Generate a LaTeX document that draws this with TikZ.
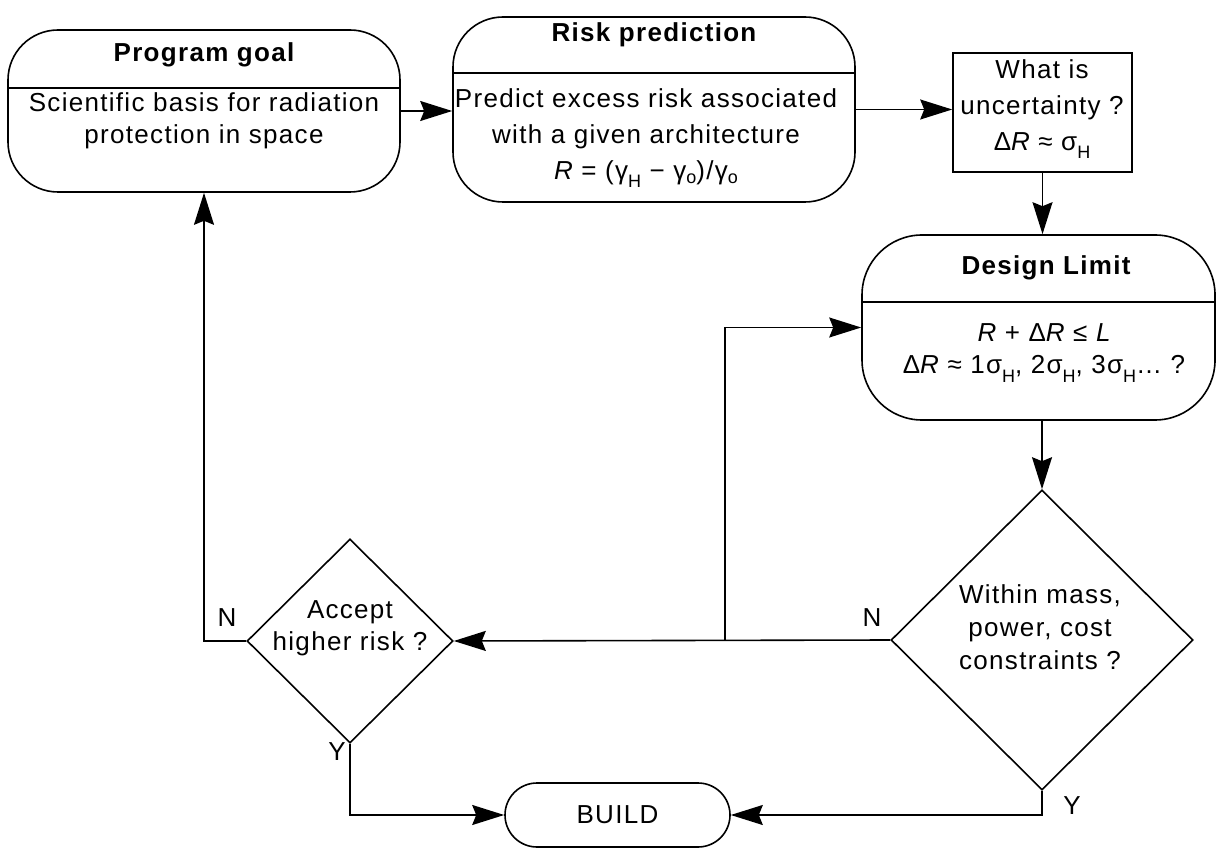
\documentclass[tikz,border=0pt]{standalone}
\usepackage{fontspec}
\setmainfont[LetterSpace=5]{Liberation Sans}
\usetikzlibrary{shapes.geometric,arrows.meta}
\newcommand{\subH}{\raisebox{-0.6ex}{\small H}}
\newcommand{\subo}{\raisebox{-0.3ex}{\small o}}
\begin{document}
\begin{tikzpicture}[x=0.5pt,y=-0.5pt,
  font=\fontsize{13}{16}\selectfont,
  line width=0.8pt,
  rbox/.style={draw, rectangle, rounded corners=#1, inner sep=0pt},
  sbox/.style={draw, rectangle, inner sep=0pt},
  dmd/.style={draw, diamond, inner sep=0pt},
  txt/.style={align=center, inner sep=0pt},
  lbl/.style={inner sep=0pt},
  arr/.style={-{Stealth[length=16pt,width=10pt,inset=2pt]}}]
\useasboundingbox (0,0) rectangle (1219,849);

% boxes
\node[rbox=25pt, minimum width=196pt, minimum height=81pt] (pg) at (204,111) {};
\node[rbox=25pt, minimum width=201pt, minimum height=92.5pt] (rp) at (654,109.5) {};
\node[sbox, minimum width=89.5pt, minimum height=59.5pt] (wu) at (1042.5,112.5) {};
\node[rbox=30pt, minimum width=176.5pt, minimum height=92.5pt] (dl) at (1038.5,327.5) {};
\node[dmd, minimum width=151pt, minimum height=150pt] (rd) at (1042,640) {};
\node[dmd, minimum width=103pt, minimum height=102pt] (ld) at (350,641) {};
\node[rbox=16pt, minimum width=112.5pt, minimum height=32pt] (bd) at (617.5,815) {};

% dividers
\coordinate (pgd) at (0,88);
\coordinate (rpd) at (0,73);
\coordinate (dld) at (0,302);
\draw (pg.west |- pgd) -- (pg.east |- pgd);
\draw (rp.west |- rpd) -- (rp.east |- rpd);
\draw (dl.west |- dld) -- (dl.east |- dld);

% texts
\node[txt] (pgt) at (204,55) {\bfseries Program goal};
\node[txt] (pgb) at (204,121) {Scientific basis for radiation\\protection in space};
\node[txt] (rpt) at (654,35) {\bfseries Risk prediction};
\node[txt] (rpb) at (646,138) {Predict excess risk associated\\[2pt]with a given architecture\\[2pt]{\itshape R} = (γ\subH\ − γ\subo)/γ\subo};
\node[txt] (wut) at (1042,109) {What is\\[2pt]uncertainty ?\\[2pt]Δ{\itshape R} ≈ σ\subH};
\node[txt] (dlt) at (1046,268) {\bfseries Design Limit};
\node[txt] (dlb) at (1044,353) {{\itshape R} + Δ{\itshape R} ≤ {\itshape L}\\[0pt]Δ{\itshape R} ≈ 1σ\subH, 2σ\subH, 3σ\subH… ?};
\node[txt] (rdt) at (1040,627) {Within mass,\\[0.5pt]power, cost\\[0.5pt]constraints ?};
\node[txt] (ldt) at (350,628) {Accept\\[0pt]higher risk ?};
\node[txt] (bdt) at (bd) {BUILD};

% labels
\node[lbl] (n1) at (227,618) {N};
\node[lbl] (n2) at (872,618) {N};
\node[lbl] (y1) at (337,752) {Y};
\node[lbl] (y2) at (1072,806) {Y};

% connectors
\coordinate (j) at (725,640);
\draw[arr] (pg.east) -- (pg.east -| rp.west);
\draw[arr] (rp.east) -- (rp.east -| wu.west);
\draw[arr] (wu.south) -- (wu.south |- dl.north);
\draw[arr] (dl.south -| rd.north) -- (rd.north);
\draw[arr] (rd.west) -- (ld.east);
\draw[arr] (j) |- (dl.west);
\draw[arr] (ld.west) -| (pg.south);
\draw[arr] (ld.south) |- (bd.west);
\draw[arr] (rd.south) |- (bd.east);
\end{tikzpicture}
\end{document}
